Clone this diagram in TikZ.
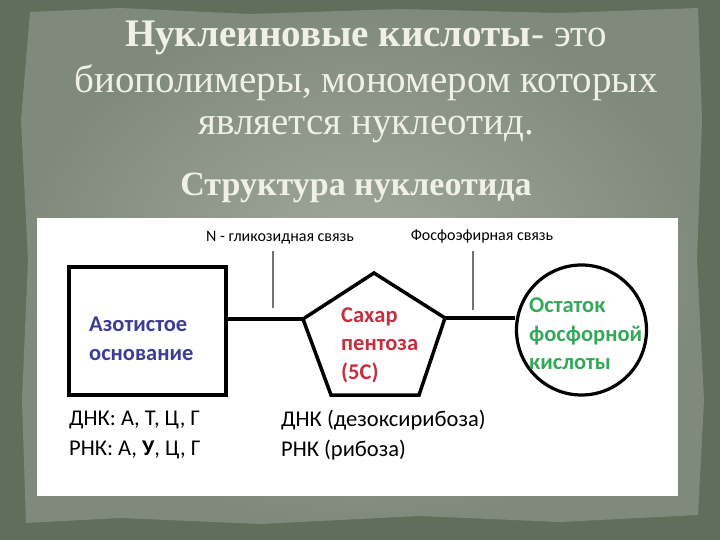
\documentclass[tikz,border=0pt]{standalone}
\usepackage{fontspec}
\setmainfont{Carlito}
\newfontfamily\headfont{Liberation Serif}
\usetikzlibrary{shapes.geometric}
\definecolor{bgdark}{RGB}{98,110,92}
\definecolor{paperout}{RGB}{128,138,124}
\definecolor{paperin}{RGB}{162,169,158}
\definecolor{headtext}{RGB}{240,240,232}
\definecolor{baseblue}{RGB}{60,60,150}
\definecolor{sugarred}{RGB}{196,48,62}
\definecolor{acidgreen}{RGB}{52,168,88}

\begin{document}
\begin{tikzpicture}[x=1pt,y=-1pt,
    bond/.style={line width=3.5pt},
    tick/.style={line width=1.1pt,draw=black!55},
    note/.style={font=\fontsize{16}{18}\selectfont,inner sep=0pt},
    inbox/.style={font=\bfseries\fontsize{22.5}{28.5}\selectfont,align=left,anchor=west,inner sep=0pt},
    under/.style={font=\fontsize{22.5}{30}\selectfont,align=left,anchor=west,inner sep=0pt},
    head/.style={font=\headfont\fontsize{39}{40}\selectfont,inner sep=0pt,text=headtext}]
  \useasboundingbox (0,0) rectangle (720,540);
  \fill[bgdark] (0,0) rectangle (720,540);
  \shade[inner color=paperin,outer color=paperout]
    (30,12) -- (120,8) -- (250,14) -- (400,9) -- (560,13) -- (698,8) -- (702,120) -- (697,260)
    -- (704,400) -- (698,515) -- (560,522) -- (420,516) -- (260,524) -- (120,518) -- (26,523)
    -- (22,400) -- (28,260) -- (21,120) -- cycle;
  % titles
  \foreach \y/\t [count=\i] in {38/{\textbf{Нуклеиновые кислоты}- это},83/{биополимеры, мономером которых},130/{является нуклеотид.}}
    \node[head] (h\i) at (366,\y) {\t};
  \node[head,font=\headfont\bfseries\fontsize{34}{35}\selectfont] (sub) at (356,188) {Структура нуклеотида};
  \fill[white] (37,218) rectangle (678,496);

  % nucleotide
  \node[draw,line width=4pt,minimum width=157pt,minimum height=128pt] (base) at (147.5,331) {};
  \node[inbox,text=baseblue] (basetxt) at (89,339) {Азотистое\\основание};
  \def\pentpts{(374,273),(445,318),(419,395),(331,395),(303,319)}
  \foreach \xy [count=\i] in \pentpts {\path \xy coordinate (s\i);}
  \draw[line width=3.5pt,line join=miter] (s1)--(s2)--(s3)--(s4)--(s5)--cycle;
  \node[inbox,text=sugarred] (sugartxt) at (341,345) {Сахар\\пентоза\\(5С)};
  \node[draw,circle,line width=3.2pt,minimum size=130pt] (acid) at (581.5,330) {};
  \node[inbox,text=acidgreen] (acidtxt) at (529,334) {Остаток\\фосфорной\\кислоты};
  \draw[bond] (s5) -- (s5 -| base.east);
  \draw[bond] (s2) -- (s2 -| acid.west);

  % bonds
  \node[note] (glyc) at (280,238) {N - гликозидная связь};
  \node[note] (phos) at (482,236) {Фосфоэфирная связь};
  \coordinate (t1) at (273,308);
  \coordinate (t2) at (473,310);
  \draw[tick] (t1) -- ([yshift=-6pt]t1 |- glyc.south);
  \draw[tick] (t2) -- ([yshift=-8pt]t2 |- phos.south);

  \node[under] (bases) at (69,435) {ДНК: А, Т, Ц, Г\\РНК: А, \textbf{У}, Ц, Г};
  \node[under] (sugars) at (281,435) {ДНК (дезоксирибоза)\\РНК (рибоза)};
\end{tikzpicture}
\end{document}
